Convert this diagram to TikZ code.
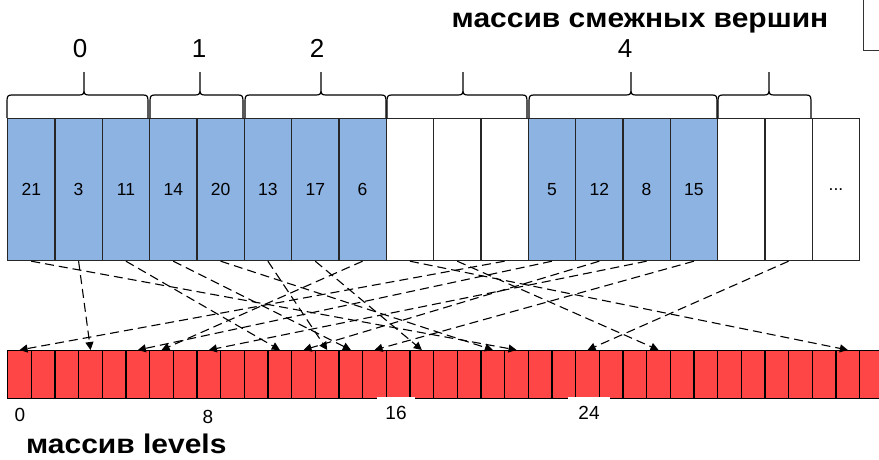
\documentclass[tikz,border=0pt]{standalone}
\usepackage{fontspec}
\setmainfont{Liberation Sans}
\newfontfamily\titlefont[FakeStretch=1.11]{Liberation Sans}
\usetikzlibrary{arrows.meta}

\definecolor{cellblue}{HTML}{8DB3E2}
\definecolor{cellred}{HTML}{FF4646}

\newcommand\moredots{...}

\tikzset{
  adjcell/.style={draw=black!85, line width=1.2pt, minimum width=47.33pt,
    minimum height=142pt, inner sep=0pt, anchor=north west,
    font=\fontsize{17.5}{17.5}\selectfont},
  fullcell/.style={adjcell, fill=cellblue},
  emptycell/.style={adjcell, fill=white},
  lvlcell/.style={draw=black, line width=1.4pt, fill=cellred,
    minimum width=23.667pt, minimum height=48pt, inner sep=0pt, anchor=north west},
  link/.style={line width=1.1pt, dash pattern=on 9pt off 5pt,
    -{Triangle[length=8pt,width=8pt]}},
  bracepath/.style={line width=1.2pt, draw=black},
  grouplabel/.style={font=\fontsize{26}{26}\selectfont, anchor=base, inner sep=0pt},
  idxlabel/.style={font=\fontsize{19}{19}\selectfont, anchor=base, inner sep=0pt},
  arraytitle/.style={font=\titlefont\fontsize{27}{27}\selectfont\bfseries, anchor=base, inner sep=0pt},
}

% curly brace over a group of cells: left end, tip, right end
\newcommand\groupbrace[3]{%
  \draw[bracepath] (#1,118) -- (#1,101)
    .. controls (#1,96) and ({#1+1},95) .. ({#1+5},95) -- ({#2-5},95)
    .. controls ({#2-1},95) and (#2,94) .. (#2,90) -- (#2,72)
    (#2,90) .. controls (#2,94) and ({#2+1},95) .. ({#2+5},95) -- ({#3-5},95)
    .. controls ({#3-1},95) and (#3,96) .. (#3,101) -- (#3,118);
}

\begin{document}
\begin{tikzpicture}[x=1pt, y=-1pt]
\useasboundingbox (0,0) rectangle (879,459);
\clip (0,0) rectangle (879,459);

% adjacency array
\foreach \v/\s [count=\i from 0] in {21/fullcell, 3/fullcell, 11/fullcell,
    14/fullcell, 20/fullcell, 13/fullcell, 17/fullcell, 6/fullcell,
    {}/emptycell, {}/emptycell, {}/emptycell,
    5/fullcell, 12/fullcell, 8/fullcell, 15/fullcell,
    {}/emptycell, {}/emptycell, \moredots/emptycell}
  \node[\s] (t\i) at ({7+\i*47.333},118) {\v};

% levels array
\foreach \i in {0,...,36}
  \node[lvlcell] (b\i) at ({7+\i*23.667},350) {};

% vertex groups
\groupbrace{7}{84}{148}
\groupbrace{150}{200}{243}
\groupbrace{245}{321}{386}
\groupbrace{387}{463}{527}
\groupbrace{529}{631}{717}
\groupbrace{718}{769}{811}

\node[grouplabel] (g0) at (80,57) {0};
\node[grouplabel] (g1) at (199,57) {1};
\node[grouplabel] (g2) at (317,57) {2};
\node[grouplabel] (g4) at (625,57) {4};

% links from neighbours to their level entries
\foreach \s/\t in {0/21, 1/3, 2/11, 3/14, 4/20, 5/13, 6/17, 7/6,
    11/5, 12/12, 13/8, 14/15, 10/0, 16/24, 9/27, 8/35}
  \draw[link] (t\s.south) -- (b\t.north);

% indices under the levels array
\node[idxlabel] (i0) at (20,421.5) {0};
\node[idxlabel] (i8) at (208,423) {8};
\node[idxlabel, fill=white, text height=22pt, inner xsep=8pt] (i16) at (396,419) {16};
\node[idxlabel, fill=white, text height=22pt, inner xsep=10pt] (i24) at (589,419) {24};

% titles
\node[arraytitle] (adjtitle) at (640,27.5) {массив смежных вершин};
\node[arraytitle, anchor=base west] (lvltitle) at (26,453) {массив levels};

% frame at the upper right corner
\draw[line width=1pt, draw=black!80] (863,-5) rectangle (900,50);
\end{tikzpicture}
\end{document}
